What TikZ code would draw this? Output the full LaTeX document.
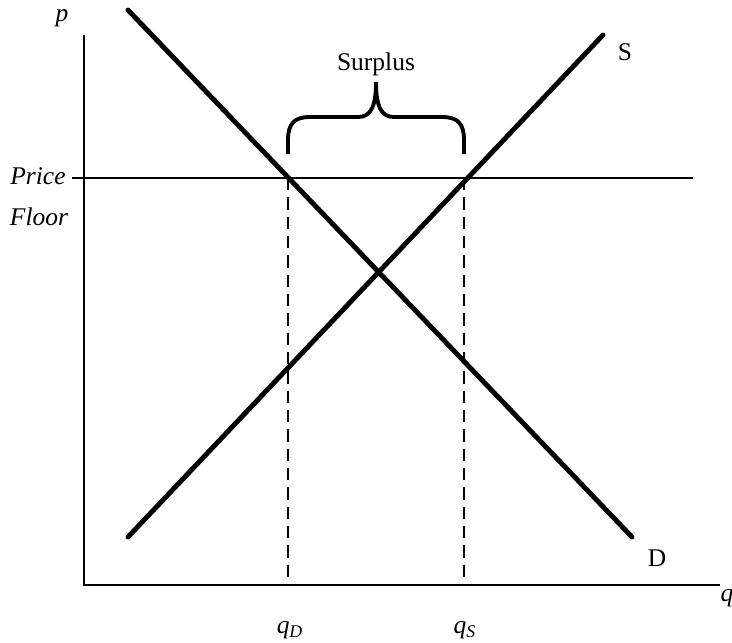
\documentclass[tikz,border=0pt]{standalone}
\usepackage{fontspec}
\setmainfont{Liberation Serif}
\usetikzlibrary{positioning}

\tikzset{
  curve/.style={line width=2.8pt},
  axis/.style={line width=1.4pt},
  floorline/.style={line width=1.1pt},
  guide/.style={line width=1.1pt,dash pattern=on 7pt off 4pt},
  lbl/.style={font=\fontsize{14.5}{16}\selectfont,inner sep=1pt},
}

\begin{document}
\begin{tikzpicture}[x=0.02cm,y=-0.02cm]
  \useasboundingbox (0,0) rectangle (732,642);
  % axes
  \coordinate (o) at (84,585);
  \coordinate (ptop) at (84,35);
  \coordinate (qend) at (720,585);
  \draw[axis] (ptop) -- (o) -- (qend);
  \node[lbl] (plab) at (62,18) {\textit{p}};
  \node[lbl] (qlab) at (727,598) {\textit{q}};
  % price floor
  \coordinate (fl) at (72,178);
  \coordinate (fr) at (693,178);
  \draw[floorline] (fl) -- (fr);
  \node[lbl] (price) at (38,176) {\textit{Price}};
  \node[lbl] (floor) at (39,217) {\textit{Floor}};
  % demand and supply
  \coordinate (d1) at (128,10);
  \coordinate (d2) at (632,537);
  \coordinate (s1) at (128,537);
  \coordinate (s2) at (603,35);
  \draw[curve,line cap=round] (d1) -- (d2);
  \draw[curve,line cap=round] (s1) -- (s2);
  \node[lbl] (dlab) at (657,558) {D};
  \node[lbl] (slab) at (625,52) {S};
  % quantities at the floor
  \coordinate (qd) at (288,178);
  \coordinate (qs) at (464,178);
  \draw[guide] (qd) -- (qd |- o);
  \draw[guide] (qs) -- (qs |- o);
  \node[lbl] (qdlab) at (290,630) {\textit{q\textsubscript{D}}};
  \node[lbl] (qslab) at (465,630) {\textit{q\textsubscript{S}}};
  % surplus brace
  \draw[line width=2.2pt]
    (288,154) -- (288,140) .. controls (288,124) and (294,117) .. (310,117)
    -- (358,117) .. controls (370,117) and (376,108) .. (376,82)
    .. controls (376,108) and (382,117) .. (394,117)
    -- (442,117) .. controls (458,117) and (464,124) .. (464,140) -- (464,154);
  \node[lbl] (surplus) at (376,64) {Surplus};
\end{tikzpicture}
\end{document}
